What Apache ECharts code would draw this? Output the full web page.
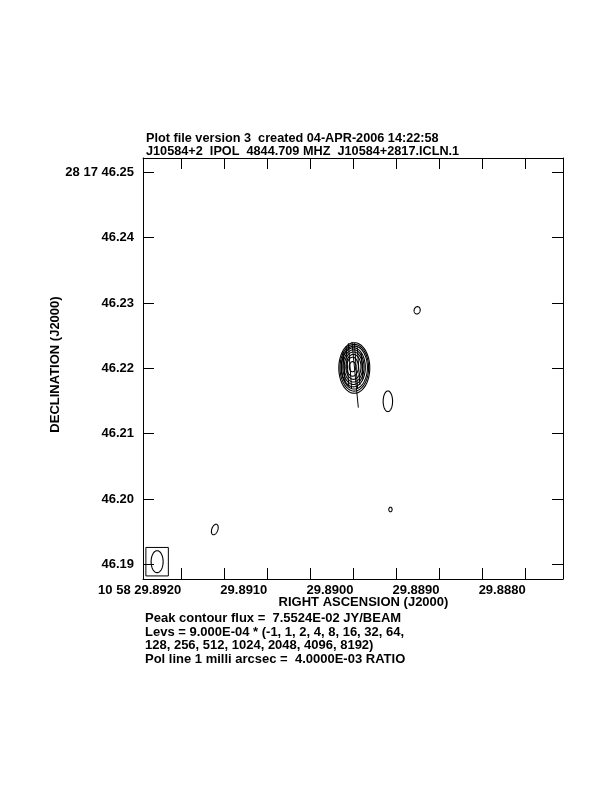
<!DOCTYPE html>
<html><head><meta charset="utf-8">
<script src="https://cdn.jsdelivr.net/npm/echarts@6/dist/echarts.min.js"></script>
<style>html,body{margin:0;padding:0;background:#fff}#c{width:612px;height:792px}</style>
</head><body><div id="c"></div>
<script>
// ---- reference values ----
const RA0 = 29.8920, DEC0 = 46.19;           // reference point of the offset axes
const raRange = [29.892444, 29.887566];      // left, right edge (seconds of RA)
const decRange = [46.18775, 46.25219];       // bottom, top edge (arcsec of Dec)
const raTickValues = [29.8920, 29.8915, 29.8910, 29.8905, 29.8900, 29.8895, 29.8890, 29.8885, 29.8880];
const raLabelValues = [29.8920, 29.8910, 29.8900, 29.8890, 29.8880];
const raLabels = ['10 58 29.8920', '29.8910', '29.8900', '29.8890', '29.8880'];
const decTickValues = [46.19, 46.20, 46.21, 46.22, 46.23, 46.24, 46.25];
const decLabels = ['46.19', '46.20', '46.21', '46.22', '46.23', '46.24', '28 17 46.25'];

// contour rings: [RA s, Dec arcsec, semi-axis E-W (mas), semi-axis N-S (mas), tilt deg]
const mainRings = [
  [29.89001, 46.22025, 0.51, 0.77, 0],
  [29.89001, 46.22024, 0.89, 1.45, 0],
  [29.89000, 46.22022, 1.16, 1.91, 0],
  [29.89000, 46.22020, 1.41, 2.30, 0],
  [29.89000, 46.22018, 1.62, 2.65, 0],
  [29.89000, 46.22015, 1.82, 2.99, 0],
  [29.88999, 46.22012, 2.01, 3.29, 0],
  [29.88999, 46.22009, 2.19, 3.58, 0],
  [29.88999, 46.22005, 2.37, 3.87, 0]
];
const weakRings = [
  [29.88960, 46.21495, 0.72, 1.58, 0],
  [29.88926, 46.22888, 0.46, 0.57, 15],
  [29.88957, 46.19839, 0.25, 0.35, 0],
  [29.89161, 46.19533, 0.46, 0.84, 20]
];
// polarization vectors: [RA s, Dec arcsec, length mas, position angle deg]
const polVectors = [
  [29.88998, 46.21901, 10.1, 5.5],
  [29.89011, 46.22035, 4.6, 4],
  [29.89007, 46.22035, 6.1, 4],
  [29.89004, 46.22035, 7.0, 4],
  [29.88997, 46.22035, 7.0, 4],
  [29.88994, 46.22035, 5.8, 4],
  [29.88990, 46.22035, 4.0, 4]
];
// restoring beam: [RA s, Dec arcsec, semi E-W mas, semi N-S mas, tilt deg]
const beam = [[29.89228, 46.19040, 0.92, 1.68, 0]];
const beamBox = [[29.89228, 46.19040, 1.72, 2.18]];

const titleLines = ['Plot file version 3  created 04-APR-2006 14:22:58',
                    'J10584+2  IPOL  4844.709 MHZ  J10584+2817.ICLN.1'];
const footerLines = ['Peak contour flux =  7.5524E-02 JY/BEAM',
                     'Levs = 9.000E-04 * (-1, 1, 2, 4, 8, 16, 32, 64,',
                     '128, 256, 512, 1024, 2048, 4096, 8192)',
                     'Pol line 1 milli arcsec =  4.0000E-03 RATIO'];

// ---- helpers ----
function u(ra) { return Math.round((RA0 - ra) * 1e8) / 1e4; }
function v(dec) { return Math.round((dec - DEC0) * 1e7) / 1e4; }
function near(list, vals, x) {
  for (let i = 0; i < vals.length; i++) if (Math.abs(vals[i] - x) < 1e-3) return list[i];
  return '';
}
const FONT = 'Liberation Sans';
const txt = { color: '#000', fontSize: 13, fontWeight: 'bold', fontFamily: FONT };

function ellipseItem(params, api) {
  const c = api.coord([api.value(0), api.value(1)]);
  const s = api.size([0, 1])[1];
  const rx = api.value(2) * s, ry = api.value(3) * s, r = api.value(4) * Math.PI / 180;
  const pts = [];
  for (let i = 0; i < 72; i++) {
    const t = i / 72 * 2 * Math.PI, ex = rx * Math.cos(t), ey = ry * Math.sin(t);
    pts.push([c[0] + ex * Math.cos(r) - ey * Math.sin(r), c[1] + ex * Math.sin(r) + ey * Math.cos(r)]);
  }
  return { type: 'polygon', shape: { points: pts }, style: { fill: 'none', stroke: '#000', lineWidth: 1.1 } };
}
function vectorItem(params, api) {
  const c = api.coord([api.value(0), api.value(1)]);
  const h = api.value(2) * api.size([0, 1])[1] / 2, a = api.value(3) * Math.PI / 180;
  return { type: 'line', shape: { x1: c[0] - h * Math.sin(a), y1: c[1] - h * Math.cos(a), x2: c[0] + h * Math.sin(a), y2: c[1] + h * Math.cos(a) },
           style: { stroke: '#000', lineWidth: 1 } };
}
function boxItem(params, api) {
  const c = api.coord([api.value(0), api.value(1)]);
  const s = api.size([0, 1])[1];
  const w = api.value(2) * s, h = api.value(3) * s;
  return { type: 'rect', shape: { x: c[0] - w, y: c[1] - h, width: 2 * w, height: 2 * h }, style: { fill: 'none', stroke: '#000', lineWidth: 1 } };
}
const toEll = r => [u(r[0]), v(r[1]), r[2], r[3], r[4]];

const axisLineStyle = { show: true, onZero: false, lineStyle: { color: '#000', width: 1 } };
const xTick = { show: true, inside: true, length: 11, customValues: raTickValues.map(u), lineStyle: { color: '#000', width: 1 } };
const yTick = { show: true, inside: true, length: 11, customValues: decTickValues.map(v), lineStyle: { color: '#000', width: 1 } };
const xMin = u(raRange[0]), xMax = u(raRange[1]), yMin = v(decRange[0]), yMax = v(decRange[1]);

const chart = echarts.init(document.getElementById('c'), null, { renderer: 'canvas' });
chart.setOption({
  animation: false,
  backgroundColor: '#fff',
  title: [
    { text: titleLines.join('\n'), left: 146, top: 132, padding: 0, textStyle: Object.assign({}, txt, { fontSize: 12.7, lineHeight: 13 }) },
    { text: footerLines.join('\n'), left: 145, top: 612, padding: 0, textStyle: Object.assign({ lineHeight: 13.5 }, txt) }
  ],
  grid: { left: 143, top: 158, width: 420, height: 421, containLabel: false },
  xAxis: [
    { type: 'value', position: 'bottom', min: xMin, max: xMax, axisLine: axisLineStyle, axisTick: xTick, splitLine: { show: false },
      axisLabel: Object.assign({ show: true, customValues: raLabelValues.map(u), align: 'right', margin: 5,
        formatter: val => near(raLabels, raLabelValues.map(u), val) }, txt),
      name: 'RIGHT ASCENSION (J2000)', nameLocation: 'middle', nameGap: 17, nameMoveOverlap: false,
      nameTextStyle: Object.assign({ padding: [0, 0, 0, 21] }, txt) },
    { type: 'value', position: 'top', min: xMin, max: xMax, axisLine: axisLineStyle, axisTick: xTick, splitLine: { show: false }, axisLabel: { show: false } }
  ],
  yAxis: [
    { type: 'value', position: 'left', min: yMin, max: yMax, axisLine: axisLineStyle, axisTick: yTick, splitLine: { show: false },
      axisLabel: Object.assign({ show: true, customValues: decTickValues.map(v), margin: 9,
        formatter: val => near(decLabels, decTickValues.map(v), val) }, txt),
      name: 'DECLINATION (J2000)', nameLocation: 'middle', nameGap: 81, nameRotate: 90, nameMoveOverlap: false,
      nameTextStyle: Object.assign({ padding: [0, 0, 0, 8] }, txt) },
    { type: 'value', position: 'right', min: yMin, max: yMax, axisLine: axisLineStyle, axisTick: yTick, splitLine: { show: false }, axisLabel: { show: false } }
  ],
  series: [
    { type: 'custom', name: 'main', xAxisIndex: 0, yAxisIndex: 0, renderItem: ellipseItem, data: mainRings.map(toEll), silent: true },
    { type: 'custom', name: 'weak', xAxisIndex: 0, yAxisIndex: 0, renderItem: ellipseItem, data: weakRings.map(toEll), silent: true },
    { type: 'custom', name: 'pol', xAxisIndex: 0, yAxisIndex: 0, renderItem: vectorItem, data: polVectors.map(p => [u(p[0]), v(p[1]), p[2], p[3]]), silent: true },
    { type: 'custom', name: 'beam', xAxisIndex: 0, yAxisIndex: 0, renderItem: ellipseItem, data: beam.map(toEll), silent: true },
    { type: 'custom', name: 'beambox', xAxisIndex: 0, yAxisIndex: 0, renderItem: boxItem, data: beamBox.map(b => [u(b[0]), v(b[1]), b[2], b[3]]), silent: true }
  ]
});
</script></body></html>
